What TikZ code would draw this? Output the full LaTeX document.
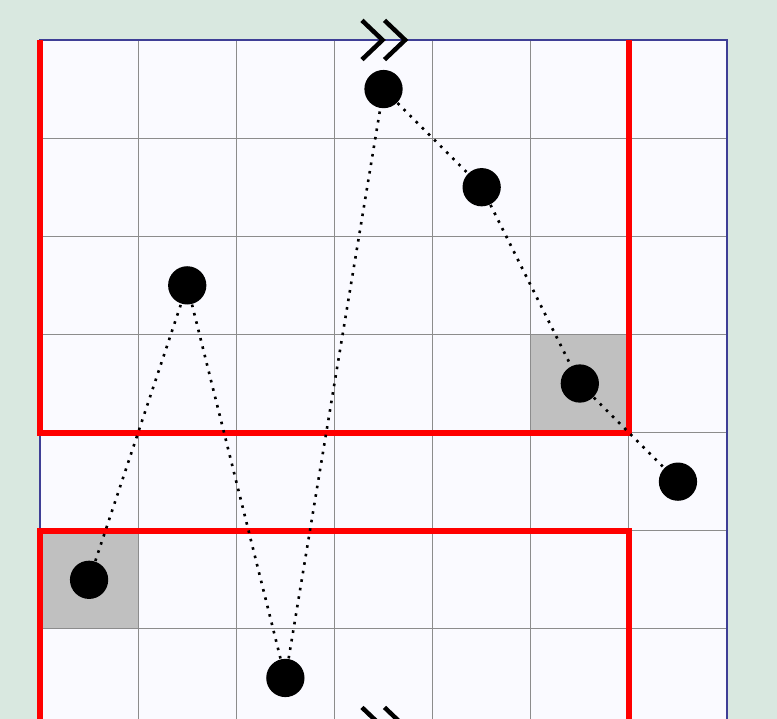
\documentclass[tikz,border=0pt]{standalone}
\usepackage{xcolor}
\usepackage{tikz}
\usetikzlibrary{positioning}

\definecolor{paper}{RGB}{217,232,224}
\definecolor{cellfill}{RGB}{250,250,255}
\definecolor{frameblue}{RGB}{62,62,150}
\definecolor{shadegray}{RGB}{192,192,192}

\begin{document}
\begin{tikzpicture}[
    x=1cm, y=-1cm,
    gridline/.style={black!45, line width=0.35pt},
    frameline/.style={frameblue, line width=0.6pt},
    shadecell/.style={fill=shadegray, draw=black!70, line width=0.35pt},
    redwall/.style={red, line width=1.75pt, line join=miter},
    trail/.style={black, line width=0.75pt, dash pattern=on 0.75pt off 1.75pt},
    dot/.style={circle, fill=black, inner sep=0pt, minimum size=0.39cm},
    chevron/.style={black, line width=1.3pt}
]

% ---------- parameters ----------
% one cell = 1cm, y grows downwards
\def\ncol{7}
\def\nrow{7}

% ---------- canvas ----------
\useasboundingbox (-0.4076,-0.4076) rectangle (7.509,6.918);
\fill[paper] (-0.4076,-0.4076) rectangle (7.509,6.918);
\clip (-0.4076,-0.4076) rectangle (7.509,6.918);

% ---------- grid ----------
\fill[cellfill] (0,0) rectangle (\ncol,\nrow);
\draw[shadecell] (0,5) rectangle (1,6);
\draw[shadecell] (5,3) rectangle (6,4);
\foreach \x in {1,...,6}{
    \draw[gridline] (\x,0) -- (\x,\nrow);
}
\foreach \y in {1,...,6}{
    \draw[gridline] (0,\y) -- (\ncol,\y);
}
\draw[frameline] (0,0) rectangle (\ncol,\nrow);

% ---------- red walls ----------
\draw[redwall] (0,0) -- (0,4) -- (6,4) -- (6,0);
\draw[redwall] (0,7.2) -- (0,5) -- (6,5) -- (6,7.2);

% ---------- dots and dotted trail ----------
\foreach \n/\cx/\cy in {1/0.5/5.5, 2/1.5/2.5, 3/2.5/6.5, 4/3.5/0.5,
                        5/4.5/1.5, 6/5.5/3.5, 7/6.5/4.5}{
    \node[dot] (p\n) at (\cx,\cy) {};
}
\draw[trail] (p1) -- (p2) -- (p3) -- (p4) -- (p5) -- (p6) -- (p7);

% ---------- edge marks (top and bottom) ----------
\foreach \yy in {0,7}{
    \foreach \xx in {3.49,3.72}{
        \draw[chevron] (\xx-0.21,\yy-0.2) -- (\xx,\yy) -- (\xx-0.21,\yy+0.2);
    }
}

\end{tikzpicture}
\end{document}
